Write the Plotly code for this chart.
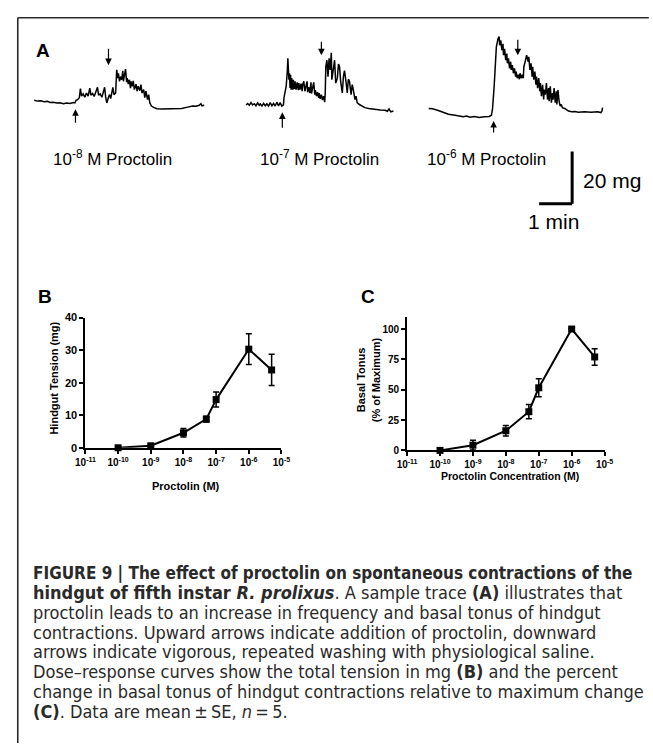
import plotly.graph_objects as go

W, H = 653, 744

# ---------------- Panel A: sample traces (time in s, tension in mg) ----------------
trace1_t = [0,6,12,18,24,29,35,41,47,53,59,65,71,74,76,79,82,84,86,89,92,95,98,101,103,106,109,112,115,117,
            120,123,126,128,130,132,135,137,139,142,143,145,148,149,150,152,153,155,157,159,161,162,164,166,168,
            169,171,173,175,176,178,180,182,185,187,189,192,194,196,199,201,203,206,208,210,213,218,223,232,244,
            256,268,279,288,294,300,303,305,309]
trace1_mg = [9.1,8.8,8.9,8.6,8.7,8.3,8.4,8.1,8.2,7.8,8.1,7.9,8.3,8.1,9.1,9.4,10.1,13.6,10.7,11.6,10.3,11.9,10.7,
             13.8,11.1,11.7,10.6,12.2,14.1,11.1,11.6,10.3,12.6,14.1,10.1,8.1,10.3,11.3,9.8,13.2,14.1,11.3,11.9,
             16.4,20.8,17.6,19.5,16.4,18.2,17.0,20.4,16.4,18.9,21.1,16.1,17.6,15.3,17.0,13.8,16.4,14.5,16.6,13.2,
             15.3,12.6,14.5,12.8,15.1,11.9,13.2,10.1,12.6,9.4,11.3,8.2,6.9,6.3,5.9,5.8,5.9,6.0,6.0,6.5,6.9,6.8,
             7.2,7.8,7.0,7.2]

trace2_t = [0,3,6,9,12,15,18,21,24,26,29,32,35,38,41,44,47,50,53,56,59,62,65,68,69,71,73,75,76,78,
            79,80,81,82,83,85,86,88,89,91,93,95,96,98,100,102,103,105,107,109,111,112,114,116,118,119,121,123,
            125,126,128,130,132,133,135,137,139,141,143,144,145,147,149,151,153,155,156,159,161,163,166,168,170,
            172,175,177,179,182,184,186,188,191,193,195,198,200,202,206,210,216,223,232,244,253,257,260,263,268]
trace2_mg = [7.3,7.9,7.2,8.2,7.3,7.8,7.0,8.1,7.2,7.7,6.9,7.9,7.0,7.8,6.9,8.2,7.0,7.9,6.9,8.4,7.0,8.2,6.9,7.4,
             10.1,13.2,14.5,20.1,25.2,17.0,19.5,13.8,18.9,13.2,17.6,13.2,17.0,13.5,16.4,13.2,16.0,13.0,15.7,13.2,
             15.5,12.6,15.1,16.4,12.6,14.5,16.4,12.2,14.2,11.9,16.0,11.7,13.5,16.0,11.3,13.0,10.7,12.2,10.1,11.9,
             9.7,11.3,9.2,10.7,8.4,11.9,22.0,24.5,18.2,25.2,20.8,27.3,17.0,22.6,24.5,15.7,17.6,23.0,22.0,16.4,
             11.9,18.2,20.5,15.7,11.9,17.2,16.4,11.3,15.1,13.2,9.4,10.7,8.2,7.5,6.9,6.3,6.0,5.7,5.4,5.3,4.9,5.8,
             4.7,5.0]

trace3_t = [0,7,16,25,36,48,57,63,69,75,83,92,101,110,114,116,119,121,123,126,128,129,131,133,135,136,138,140,
            142,143,145,147,149,150,152,154,156,158,159,161,163,165,166,168,170,172,173,176,178,181,182,184,186,
            188,189,191,193,195,196,198,200,202,203,205,207,209,210,212,214,216,218,219,221,223,225,226,228,230,
            232,233,235,237,239,241,243,248,254,260,266,272,283,295,307,313,315,316]
trace3_mg = [6.0,5.9,5.3,4.7,3.8,3.4,2.9,2.8,3.1,2.6,2.9,2.5,2.8,2.9,3.4,5.7,14.5,22.0,29.6,32.7,33.6,30.2,32.1,
             28.3,30.8,26.4,28.9,24.5,27.0,23.3,25.2,21.4,23.9,20.8,22.6,19.5,21.4,18.2,20.1,17.6,18.9,17.2,19.5,
             17.6,18.9,17.6,22.0,24.5,26.4,23.9,25.8,20.8,23.3,18.2,22.0,17.0,20.1,15.1,18.2,13.8,17.6,12.6,15.7,
             10.7,15.1,9.4,13.2,11.3,15.7,9.4,13.8,8.8,14.5,8.2,11.9,9.4,13.8,8.2,12.6,7.5,13.0,8.8,6.9,7.5,6.3,
             5.9,5.0,4.7,4.8,4.5,4.7,4.5,4.7,4.4,5.0,6.3]

trace_labels = ["10<sup>-8</sup> M Proctolin", "10<sup>-7</sup> M Proctolin", "10<sup>-6</sup> M Proctolin"]
addition_t = [75, 66, 118]      # upward arrows (s after trace start)
addition_mg = [5.7, 4.5, 1.2]
wash_t = [135, 137, 162]        # downward arrows
wash_mg = [22.6, 26.4, 26.4]
scale_mg = 20
scale_s = 60

# ---------------- Panels B and C: dose-response ----------------
conc = [1e-10, 1e-9, 1e-8, 5e-8, 1e-7, 1e-6, 5e-6]
tension = [0.0, 0.6, 4.6, 8.8, 14.8, 30.3, 23.9]
tension_se = [0.3, 0.3, 1.3, 0.9, 2.3, 4.7, 4.8]
tonus = [0.0, 4.3, 16.2, 31.9, 51.6, 100.0, 77.0]
tonus_se = [1.0, 4.0, 4.3, 5.9, 7.4, 0.0, 6.8]
log_ticks = [1e-11, 1e-10, 1e-9, 1e-8, 1e-7, 1e-6, 1e-5]
log_ticktext = ["10<sup>-11</sup>", "10<sup>-10</sup>", "10<sup>-9</sup>", "10<sup>-8</sup>",
                "10<sup>-7</sup>", "10<sup>-6</sup>", "10<sup>-5</sup>"]

caption_lines = [
    "<b>FIGURE 9 | The effect of proctolin on spontaneous contractions of the</b>",
    "<b>hindgut of fifth instar <i>R. prolixus</i></b>. A sample trace <b>(A)</b> illustrates that",
    "proctolin leads to an increase in frequency and basal tonus of hindgut",
    "contractions. Upward arrows indicate addition of proctolin, downward",
    "arrows indicate vigorous, repeated washing with physiological saline.",
    "Dose\u2013response curves show the total tension in mg <b>(B)</b> and the percent",
    "change in basal tonus of hindgut contractions relative to maximum change",
    "<b>(C)</b>. Data are mean\u2009\u00b1\u2009SE, <i>n</i>\u2009=\u20095.",
]
caption_sizes = [17, 18, 18, 18, 18, 18, 18, 18]

# ---------------- layout helpers (pixel -> paper) ----------------
def px(x):
    return x / W

def py(y):
    return 1 - y / H

SEC_PER_PX = 60 / 34.0
MG_PER_PX = 1 / 2.65
trace_offsets = [44, 429, 761]  # s, horizontal placement of the three recordings

A_RANGE_X = [0, W * SEC_PER_PX]
A_RANGE_Y = [(120 - 240) * MG_PER_PX, (120 - 20) * MG_PER_PX]

FONT = "Liberation Sans, Arial, Helvetica, sans-serif"
CAPFONT = "DejaVu Sans Condensed, Liberation Sans, sans-serif"

fig = go.Figure()

for tt, mm, off in zip([trace1_t, trace2_t, trace3_t], [trace1_mg, trace2_mg, trace3_mg], trace_offsets):
    fig.add_trace(go.Scatter(x=[t + off for t in tt], y=mm, mode="lines",
                             line=dict(color="black", width=1.5), xaxis="x", yaxis="y",
                             showlegend=False, hoverinfo="skip"))

fig.add_trace(go.Scatter(x=conc, y=tension, mode="lines+markers",
                         line=dict(color="black", width=2),
                         marker=dict(symbol="square", size=7, color="black"),
                         error_y=dict(type="data", array=tension_se, color="black", thickness=1.5, width=3),
                         xaxis="x2", yaxis="y2", showlegend=False, cliponaxis=False))
fig.add_trace(go.Scatter(x=conc, y=tonus, mode="lines+markers",
                         line=dict(color="black", width=2),
                         marker=dict(symbol="square", size=7, color="black"),
                         error_y=dict(type="data", array=tonus_se, color="black", thickness=1.5, width=3),
                         xaxis="x3", yaxis="y3", showlegend=False, cliponaxis=False))

hidden = dict(visible=False, showgrid=False, zeroline=False)
def axis_style(size):
    return dict(showline=True, linecolor="black", linewidth=2, ticks="outside", ticklen=4,
                tickwidth=2, tickcolor="black", showgrid=False, zeroline=False,
                tickfont=dict(family=FONT, size=size, color="black", weight="bold"))

fig.update_layout(
    width=W, height=H, margin=dict(l=0, r=0, t=0, b=0),
    paper_bgcolor="white", plot_bgcolor="rgba(0,0,0,0)",
    xaxis=dict(domain=[0, 1], range=A_RANGE_X, **hidden),
    yaxis=dict(domain=[py(240), py(20)], range=A_RANGE_Y, **hidden),
    xaxis2=dict(domain=[px(77.7), px(279.6)], type="log", range=[-11, -5], anchor="y2",
                tickvals=log_ticks, ticktext=log_ticktext, **axis_style(10)),
    yaxis2=dict(domain=[py(449), py(316.7)], range=[0, 40], anchor="x2",
                tickvals=[0, 10, 20, 30, 40], **axis_style(11)),
    xaxis3=dict(domain=[px(409), px(612.4)], type="log", range=[-11, -5], anchor="y3",
                tickvals=log_ticks, ticktext=log_ticktext, **axis_style(10)),
    yaxis3=dict(domain=[py(451.7), py(316)], range=[0, 110], anchor="x3",
                tickvals=[0, 25, 50, 75, 100], **axis_style(10)),
)

ann = []
for letter, x, y in [("A", 34, 45), ("B", 36, 295), ("C", 369, 295)]:
    ann.append(dict(text="<b>%s</b>" % letter, x=px(x), y=py(y), xref="paper", yref="paper",
                    showarrow=False, font=dict(family=FONT, size=19, color="black"),
                    xanchor="center", yanchor="middle"))
for lab, x in zip(trace_labels, [42, 255, 427]):
    ann.append(dict(text=lab, x=px(x), y=py(154), xref="paper", yref="paper", showarrow=False,
                    font=dict(family=FONT, size=17, color="black"), xanchor="left", yanchor="middle"))
for t, m, off, L in zip(addition_t, addition_mg, trace_offsets, [15, 17, 13]):
    ann.append(dict(x=t + off, y=m, xref="x", yref="y", ax=0, ay=L, text="", showarrow=True,
                    arrowhead=2, arrowsize=1.1, arrowwidth=1.2, arrowcolor="black"))
for t, m, off, L in zip(wash_t, wash_mg, trace_offsets, [18, 15, 17]):
    ann.append(dict(x=t + off, y=m, xref="x", yref="y", ax=0, ay=-L, text="", showarrow=True,
                    arrowhead=2, arrowsize=1.1, arrowwidth=1.2, arrowcolor="black"))

bar_t = 579 * SEC_PER_PX
bar_mg = (120 - 201) * MG_PER_PX
shapes = [
    dict(type="line", xref="x", yref="y", x0=bar_t, x1=bar_t, y0=bar_mg, y1=bar_mg + scale_mg,
         line=dict(color="black", width=3)),
    dict(type="line", xref="x", yref="y", x0=bar_t - scale_s, x1=bar_t, y0=bar_mg, y1=bar_mg,
         line=dict(color="black", width=3)),
]
ann.append(dict(text="%d mg" % scale_mg, x=px(588), y=py(177), xref="paper", yref="paper", showarrow=False,
                font=dict(family=FONT, size=21, color="black"), xanchor="left", yanchor="middle"))
ann.append(dict(text="1 min", x=px(560), y=py(219), xref="paper", yref="paper", showarrow=False,
                font=dict(family=FONT, size=21, color="black"), xanchor="center", yanchor="middle"))

ann.append(dict(text="<b>Hindgut Tension (mg)</b>", x=px(45), y=py(378), xref="paper", yref="paper",
                showarrow=False, textangle=-90, font=dict(family=FONT, size=11, color="black"),
                xanchor="center", yanchor="middle"))
ann.append(dict(text="<b>Proctolin (M)</b>", x=px(181), y=py(488), xref="paper", yref="paper",
                showarrow=False, font=dict(family=FONT, size=11, color="black"),
                xanchor="center", yanchor="middle"))
ann.append(dict(text="<b>Basal Tonus<br>(% of Maximum)</b>", x=px(369), y=py(380), xref="paper", yref="paper",
                showarrow=False, textangle=-90, font=dict(family=FONT, size=11, color="black"),
                xanchor="center", yanchor="middle"))
ann.append(dict(text="<b>Proctolin Concentration (M)</b>", x=px(515), y=py(478), xref="paper", yref="paper",
                showarrow=False, font=dict(family=FONT, size=10.5, color="black"),
                xanchor="center", yanchor="middle"))

for i, (line, sz) in enumerate(zip(caption_lines, caption_sizes)):
    ann.append(dict(text=line, x=px(22), y=py(576 + 20.1 * i), xref="paper", yref="paper", showarrow=False,
                    font=dict(family=CAPFONT, size=sz, color="#2a2a2a"), xanchor="left", yanchor="middle"))

shapes += [
    dict(type="line", xref="paper", yref="paper", x0=px(8), x1=px(W + 5), y0=py(12), y1=py(12),
         line=dict(color="#2a2a2a", width=1.6)),
    dict(type="line", xref="paper", yref="paper", x0=px(8), x1=px(8), y0=py(12), y1=py(H + 5),
         line=dict(color="#2a2a2a", width=1.6)),
]

fig.update_layout(annotations=ann, shapes=shapes)
fig.write_html("out.html", config={"displayModeBar": False},
               post_script="document.body.style.margin='0px';document.body.style.overflow='hidden';")
